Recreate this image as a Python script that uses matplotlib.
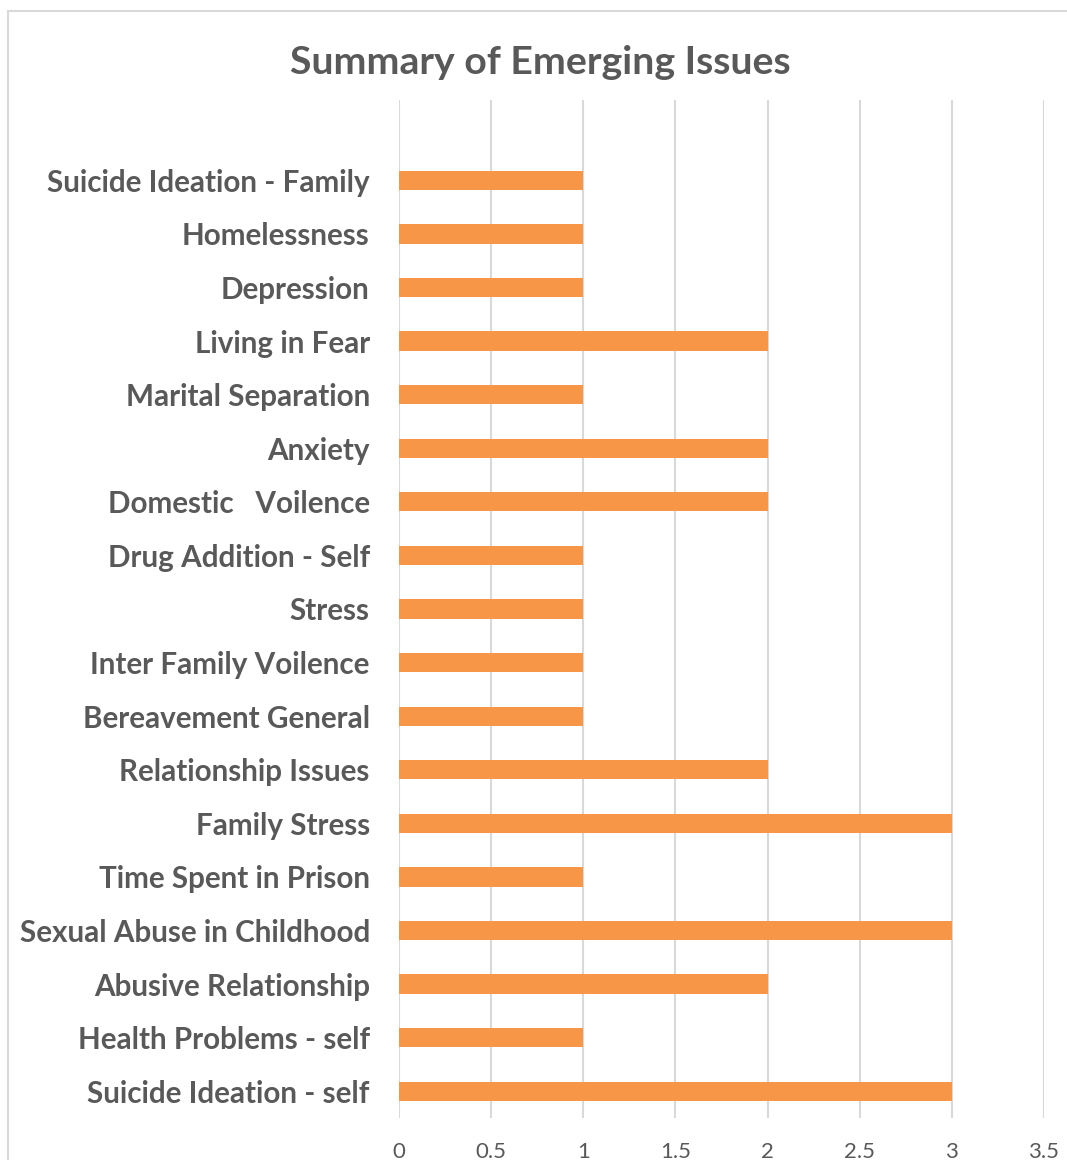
import matplotlib
matplotlib.use('Agg')
import matplotlib.pyplot as plt
from matplotlib.patches import Rectangle

# categories from bottom to top
issues = ['Suicide Ideation - self', 'Health Problems - self', 'Abusive Relationship',
          'Sexual Abuse in Childhood', 'Time Spent in Prison', 'Family Stress',
          'Relationship Issues', 'Bereavement General', 'Inter Family Voilence',
          'Stress', 'Drug Addition - Self', 'Domestic   Voilence', 'Anxiety',
          'Marital Separation', 'Living in Fear', 'Depression', 'Homelessness',
          'Suicide Ideation - Family']
counts = [3, 1, 2, 3, 1, 3, 2, 1, 1, 1, 1, 2, 2, 1, 2, 1, 1, 1]
xticks = [0, 0.5, 1, 1.5, 2, 2.5, 3, 3.5]

txt_col = '#595959'
grid_col = '#D9D9D9'

fig = plt.figure(figsize=(10.67, 11.6), dpi=100)
ax = fig.add_axes([399/1067, 1-1118/1160, (1044-399)/1067, (1118-100)/1160])

ypos = list(range(len(issues)))
ax.barh(ypos, counts, height=0.36, color='#F79646', zorder=3)

ax.set_xlim(0, 3.5)
ax.set_ylim(-0.5, len(issues) + 0.5)
ax.set_xticks(xticks)
ax.set_xticklabels(['0', '0.5', '1', '1.5', '2', '2.5', '3', '3.5'],
                   fontsize=16, color=txt_col, family='Lato')
ax.set_yticks(ypos)
ax.set_yticklabels(issues, fontsize=21.3, color=txt_col, family='Lato', fontweight='bold')
ax.tick_params(axis='both', length=0)
ax.tick_params(axis='y', pad=21)
ax.tick_params(axis='x', pad=17)
ax.grid(axis='x', color=grid_col, linewidth=1.5, zorder=0)
for s in ax.spines.values():
    s.set_visible(False)

fig.text(540/1067, 1-62/1160, 'Summary of Emerging Issues', ha='center', va='center',
         fontsize=28.3, color=txt_col, family='Lato', fontweight='bold')

# chart frame, running off the right and bottom edges
fig.patches.append(Rectangle((8/1067, -0.1), 1.2, 1-11/1160+0.1, transform=fig.transFigure,
                             fill=False, edgecolor=grid_col, linewidth=1.5))

fig.savefig('out.png', dpi=100)
